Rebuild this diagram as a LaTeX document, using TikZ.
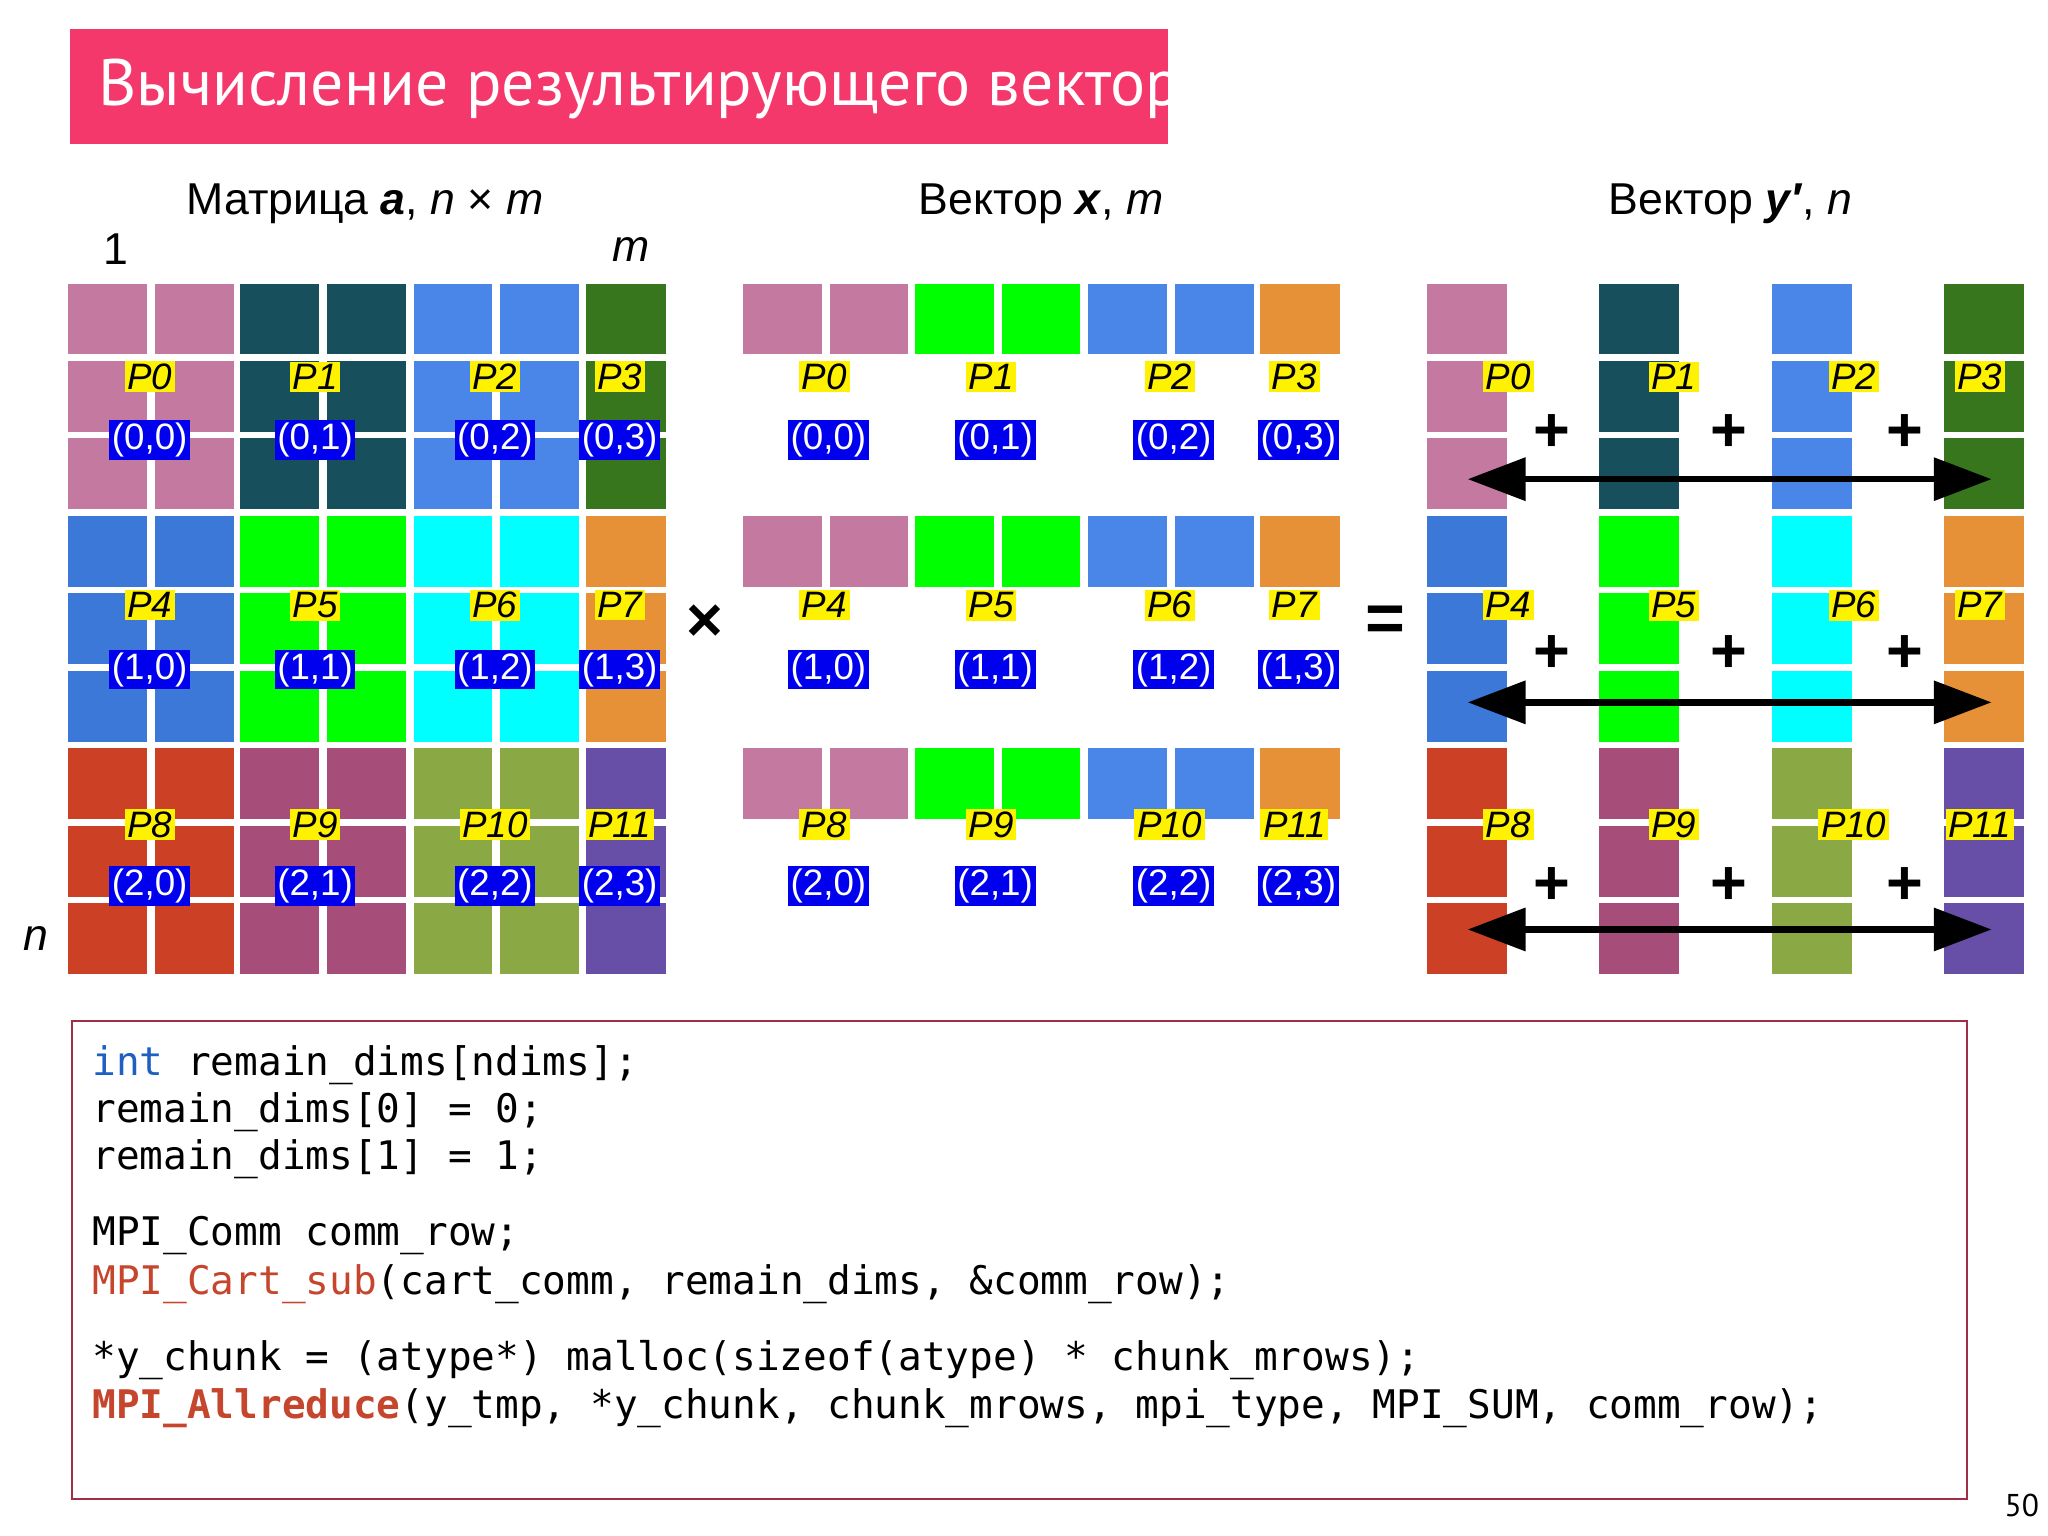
\documentclass[tikz,border=0pt]{standalone}
\usepackage{fontspec}
\setmainfont{Liberation Sans}
\setmonofont{DejaVu Sans Mono}
\newfontfamily\titlefont{PT Sans}
\usetikzlibrary{arrows.meta}
\definecolor{titlered}{HTML}{F5386B}
\definecolor{c0}{HTML}{C47AA0}\definecolor{c1}{HTML}{174F5C}\definecolor{c2}{HTML}{4A86E8}\definecolor{c3}{HTML}{38761D}
\definecolor{c4}{HTML}{3C78D8}\definecolor{c5}{HTML}{00FF00}\definecolor{c6}{HTML}{00FFFF}\definecolor{c7}{HTML}{E69138}
\definecolor{c8}{HTML}{CC4125}\definecolor{c9}{HTML}{A64D79}\definecolor{c10}{HTML}{8AA844}\definecolor{c11}{HTML}{674EA7}
\definecolor{codeblue}{HTML}{1F5FBF}\definecolor{codered}{HTML}{C5452D}\definecolor{boxred}{HTML}{A03048}
\definecolor{lblue}{HTML}{0000EE}
\tikzset{
 plab/.style={fill=yellow,inner sep=1pt,font=\fontsize{14}{14}\selectfont\itshape},
 clab/.style={fill=lblue,text=white,inner sep=1pt,font=\fontsize{14}{14}\selectfont},
 head/.style={font=\fontsize{17}{17}\selectfont},
 codeline/.style={anchor=west,inner sep=0pt,font=\fontsize{15}{15}\ttfamily},
 dbl/.style={line width=2.5pt,{Triangle[length=22pt,width=16pt]}-{Triangle[length=22pt,width=16pt]}},
}
\begin{document}
\begin{tikzpicture}[x=0.5pt,y=-0.5pt]
\useasboundingbox (0,0) rectangle (1560,1170);
\fill[white] (0,0) rectangle (1560,1170);
% title
\fill[titlered] (53,22) rectangle (890,110);
\node[anchor=west,text=white,font=\fontsize{25}{25}\titlefont] (title) at (68,68) {Вычисление результирующего вектора};
% headings
\node[head] (h1) at (278,155) {Матрица \textbf{\textit{a}}, \textit{n} × \textit{m}};
\node[head] (h2) at (793,155) {Вектор \textbf{\textit{x}}, \textit{m}};
\node[head] (h3) at (1318,155) {Вектор \textbf{\textit{y′}}, \textit{n}};
\node[head] (one) at (88,190) {1};
\node[head] (mm) at (481,190) {\textit{m}};
\node[head] (nn) at (27,715) {\textit{n}};
% matrix
\foreach \r/\ry in {0/216,1/393,2/570}{
 \foreach \c/\cx in {0/52,1/183,2/315,3/446}{
  \pgfmathtruncatemacro\idx{\r*4+\c}
  \foreach \k in {0,1,2}{
   \pgfmathsetmacro\yy{\ry+\k*59}
   \ifnum\c=3
    \fill[c\idx] (\cx,\yy) rectangle ++(61,54);
   \else
    \fill[c\idx] (\cx,\yy) rectangle ++(60,54);
    \fill[c\idx] (\cx+66,\yy) rectangle ++(60,54);
   \fi
  }
 }
}
% vector x
\foreach \ry in {216,393,570}{
 \fill[c0] (566,\ry) rectangle ++(60,54); \fill[c0] (632,\ry) rectangle ++(60,54);
 \fill[c5] (697,\ry) rectangle ++(60,54); \fill[c5] (763,\ry) rectangle ++(60,54);
 \fill[c2] (829,\ry) rectangle ++(60,54); \fill[c2] (895,\ry) rectangle ++(60,54);
 \fill[c7] (960,\ry) rectangle ++(61,54);
}
% vector y'
\foreach \c/\cx in {0/1087,1/1218,2/1350,3/1481}{
 \foreach \r/\ry in {0/216,1/393,2/570}{
  \pgfmathtruncatemacro\idx{\r*4+\c}
  \foreach \k in {0,1,2}{
   \fill[c\idx] (\cx,\ry+\k*59) rectangle ++(61,54);
  }
 }
}
% labels
\foreach \r/\py/\cy in {0/287/335,1/461/510,2/628/675}{
 \foreach \c/\mx/\vx/\yx in {0/114/628/1149,1/240/755/1275,2/377/891/1412,3/472/986/1508}{
  \pgfmathtruncatemacro\idx{\r*4+\c}
  \node[plab] (mp\idx) at (\mx,\py) {P\idx};
  \node[clab] (mc\idx) at (\mx,\cy) {(\r,\c)};
  \node[plab] (vp\idx) at (\vx,\py) {P\idx};
  \ifnum\c=0 \node[clab] (vc\idx) at (\vx+3,\cy) {(\r,\c)};\else \node[clab] (vc\idx) at (\vx+3,\cy) {(\r,\c)};\fi
  \node[plab] (yp\idx) at (\yx,\py) {P\idx};
 }
}
% plus signs and arrows
\foreach \r/\py/\ay in {0/330/365,1/498/535,2/675/708}{
 \foreach \px [count=\i] in {1182,1317,1451}{
  \node[font=\fontsize{24}{24}\selectfont\bfseries] (plus\r\i) at (\px,\py) {+};
 }
 \coordinate (aL\r) at (1118,\ay);
 \coordinate (aR\r) at (1517,\ay);
 \draw[dbl] (aL\r) -- (aR\r);
}
\node[font=\fontsize{24}{24}\selectfont\bfseries] (times) at (537,475) {×};
\node[font=\fontsize{26}{26}\selectfont\bfseries] (eq) at (1055,475) {=};
% code box
\draw[boxred,line width=0.8pt] (55,778) rectangle (1498,1142);
\node[codeline] (l1) at (70,811) {\textcolor{codeblue}{int} remain\_dims[ndims];};
\node[codeline] (l2) at (70,847) {remain\_dims[0] = 0;};
\node[codeline] (l3) at (70,883) {remain\_dims[1] = 1;};
\node[codeline] (l4) at (70,941) {MPI\_Comm comm\_row;};
\node[codeline] (l5) at (70,978) {\textcolor{codered}{MPI\_Cart\_sub}(cart\_comm, remain\_dims, \&comm\_row);};
\node[codeline] (l6) at (70,1036) {*y\_chunk = (atype*) malloc(sizeof(atype) * chunk\_mrows);};
\node[codeline] (l7) at (70,1073) {\textcolor{codered}{\textbf{MPI\_Allreduce}}(y\_tmp, *y\_chunk, chunk\_mrows, mpi\_type, MPI\_SUM, comm\_row);};
\node[font=\fontsize{12}{12}\titlefont] (pg) at (1540,1147) {50};
\end{tikzpicture}
\end{document}
